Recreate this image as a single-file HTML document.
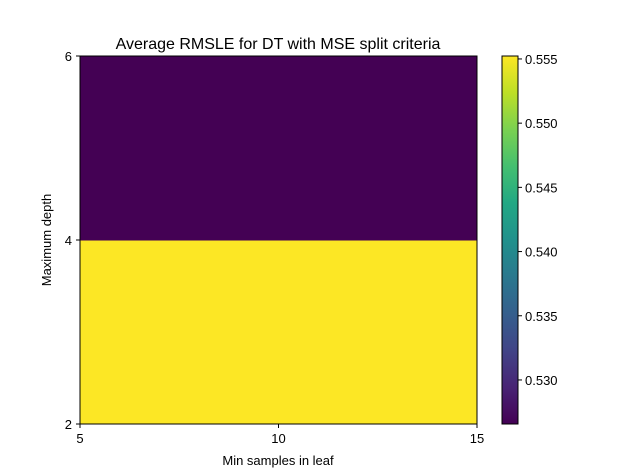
<!DOCTYPE html>
<html><head><meta charset="utf-8">
<style>
body{margin:0;background:#fff;}
svg{display:block;font-family:"Liberation Sans","DejaVu Sans",sans-serif;}
</style></head>
<body>
<svg id="chart" width="640" height="476" viewBox="0 0 640 476">
<defs>
<linearGradient id="viridis" x1="0" y1="1" x2="0" y2="0">
<stop offset="0" stop-color="#440154"/>
<stop offset="0.1" stop-color="#482475"/>
<stop offset="0.2" stop-color="#414487"/>
<stop offset="0.3" stop-color="#355f8d"/>
<stop offset="0.4" stop-color="#2a788e"/>
<stop offset="0.5" stop-color="#21918c"/>
<stop offset="0.6" stop-color="#22a884"/>
<stop offset="0.7" stop-color="#44bf70"/>
<stop offset="0.8" stop-color="#7ad151"/>
<stop offset="0.9" stop-color="#bddf26"/>
<stop offset="1" stop-color="#fde725"/>
</linearGradient>
</defs>
<text x="278" y="49" font-size="16" text-anchor="middle">Average RMSLE for DT with MSE split criteria</text>
<g id="cells"></g>
<rect x="80" y="56" width="397" height="368" fill="none" stroke="#000" stroke-width="1"/>
<g id="xticks"></g>
<g id="yticks"></g>
<text x="278" y="465" font-size="13" text-anchor="middle">Min samples in leaf</text>
<text x="51" y="240" font-size="13" text-anchor="middle" transform="rotate(-90 51 240)">Maximum depth</text>
<rect x="502" y="56" width="16" height="368" fill="url(#viridis)" stroke="#000" stroke-width="1"/>
<g id="cticks"></g>
</svg>
<script>
const xEdges=[5,10,15];
const yEdges=[2,4,6];
const values=[[0.5552,0.5552],[0.5266,0.5266]]; // rows: y bins (2-4, 4-6)
const xTickLabels=["5","10","15"];
const yTickLabels=["2","4","6"];
const cbTicks=[0.530,0.535,0.540,0.545,0.550,0.555];
const vmin=0.52657, vmax=0.55523;
const ns="http://www.w3.org/2000/svg";
const X=v=>80+(v-5)/(15-5)*397;
const Y=v=>424-(v-2)/(6-2)*368;
const C=v=>424-(v-vmin)/(vmax-vmin)*368;
const stops=["#440154","#482475","#414487","#355f8d","#2a788e","#21918c","#22a884","#44bf70","#7ad151","#bddf26","#fde725"];
function hex(h){return [1,3,5].map(i=>parseInt(h.substr(i,2),16));}
function color(v){let t=Math.max(0,Math.min(1,(v-vmin)/(vmax-vmin)))*10;let i=Math.min(9,Math.floor(t));let f=t-i;let a=hex(stops[i]),b=hex(stops[i+1]);return "rgb("+a.map((c,k)=>Math.round(c+(b[k]-c)*f)).join(",")+")";}
function mk(tag,attrs,parent){const e=document.createElementNS(ns,tag);for(const k in attrs)e.setAttribute(k,attrs[k]);parent.appendChild(e);return e;}
const cells=document.getElementById('cells');
for(let r=0;r<yEdges.length-1;r++)for(let c=0;c<xEdges.length-1;c++){
 const e=mk('rect',{x:X(xEdges[c]),y:Y(yEdges[r+1]),width:X(xEdges[c+1])-X(xEdges[c])+0.5,height:Y(yEdges[r])-Y(yEdges[r+1])+0.5,fill:color(values[r][c])},cells);
 
 
}
const xt=document.getElementById('xticks');
xEdges.forEach((v,i)=>{
 mk('line',{x1:X(v),x2:X(v),y1:424,y2:428,stroke:'#000'},xt);
 const t=mk('text',{x:X(v),y:443,'font-size':13,'text-anchor':'middle'},xt);t.textContent=xTickLabels[i];
 
 
});
const yt=document.getElementById('yticks');
yEdges.forEach((v,i)=>{
 mk('line',{x1:76,x2:80,y1:Y(v),y2:Y(v),stroke:'#000'},yt);
 const t=mk('text',{x:72,y:Y(v)+5,'font-size':13,'text-anchor':'end'},yt);t.textContent=yTickLabels[i];
 
 
});
const ct=document.getElementById('cticks');
cbTicks.forEach(v=>{
 mk('line',{x1:518,x2:522,y1:C(v),y2:C(v),stroke:'#000'},ct);
 const t=mk('text',{x:525,y:C(v)+5,'font-size':13},ct);t.textContent=v.toFixed(3);
 
 
});
</script>
</body></html>
